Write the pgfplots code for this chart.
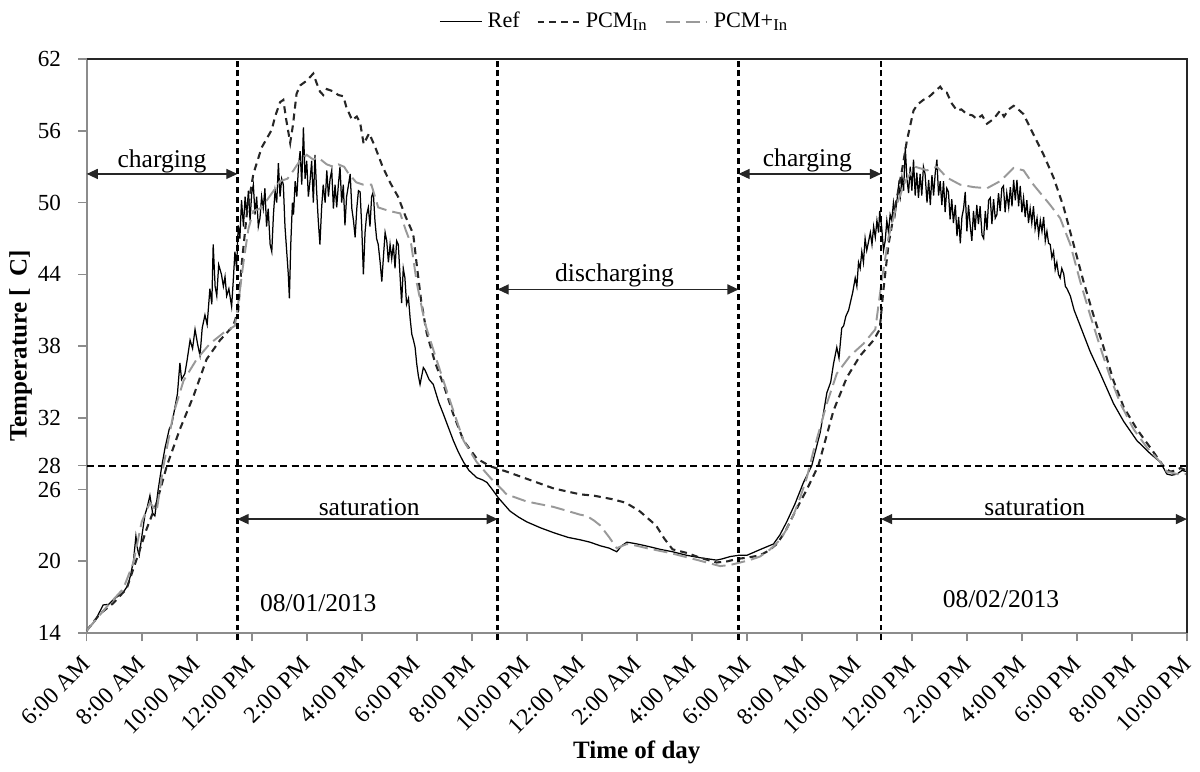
\documentclass[border=0pt]{standalone}
\usepackage{fontspec}
\setmainfont{Liberation Serif}
\usepackage{pgfplots}
\pgfplotsset{compat=1.18}
\usetikzlibrary{arrows.meta}

\tikzset{
  span/.style={{Triangle[length=4pt,width=3.6pt]}-{Triangle[length=4pt,width=3.6pt]}, line width=0.5pt, black!85},
  phase/.style={black, line width=0.9pt, dash pattern=on 2.1pt off 1.4pt},
  note/.style={anchor=base, inner sep=0pt, font=\fontsize{9.2}{11}\selectfont},
}

\begin{document}
\begin{tikzpicture}
\begin{axis}[
  at={(0,0)}, anchor=south west,
  scale only axis, width=396.1pt, height=206.6pt,
  xmin=0, xmax=40, ymin=14, ymax=62,
  clip=false,
  xtick={0,2,...,40},
  xticklabels={6:00 AM,8:00 AM,10:00 AM,12:00 PM,2:00 PM,4:00 PM,6:00 PM,8:00 PM,10:00 PM,12:00 AM,2:00 AM,4:00 AM,6:00 AM,8:00 AM,10:00 AM,12:00 PM,2:00 PM,4:00 PM,6:00 PM,8:00 PM,10:00 PM},
  ytick={14,20,26,28,32,38,44,50,56,62},
  xtick pos=bottom, ytick pos=left,
  tick align=outside, major tick length=3pt,
  tick style={black!45, line width=0.6pt},
  axis line style={black!45, line width=0.7pt},
  /pgf/number format/assume math mode=true,
  yticklabel style={font=\fontsize{8.3}{10}\selectfont, xshift=-2.7pt},
  xticklabel style={font=\fontsize{8.5}{10}\selectfont, yshift=-6.8pt, rotate=45, anchor=east, inner sep=0pt},
  xlabel={Time of day},
  ylabel={Temperature [\hspace{0.45em}C]},
  xlabel style={font=\bfseries\fontsize{9}{10}\selectfont, at={(axis description cs:0.5,-0.2073)}, anchor=center},
  ylabel style={font=\bfseries\fontsize{9}{10}\selectfont, at={(axis description cs:-0.06,0.5)}, anchor=center},
  legend columns=3,
  legend style={at={(axis description cs:0.4817,1.065)}, anchor=center, draw=none, fill=none,
    font=\fontsize{8}{9.6}\selectfont, /tikz/every even column/.append style={column sep=4pt}},
  legend image code/.code={\draw[#1] (0pt,0pt) -- (15pt,0pt);},
]

% Ref
\addplot[black, line width=0.45pt] coordinates {
(0,14.2)(0.3,15.0)(0.6,16.35)(0.8,16.4)(0.97,16.8)(1.15,17.1)(1.33,17.4)(1.5,18.0)(1.58,18.7)(1.7,20.0)(1.79,22.1)(1.85,21.0)(1.91,20.5)(2.0,22.0)(2.12,23.9)(2.2,24.5)(2.3,25.5)(2.4,24.0)(2.48,23.8)(2.6,26.0)(2.73,27.95)(2.85,29.5)(3.0,31.05)(3.1,31.5)(3.21,32.9)(3.3,34.0)(3.39,36.6)(3.45,35.2)(3.57,35.7)(3.65,36.8)(3.76,38.5)(3.85,37.8)(3.94,39.4)(4.03,38.2)(4.12,37.2)(4.2,39.5)(4.3,40.6)(4.38,39.8)(4.48,42.8)(4.55,41.5)(4.6,46.5)(4.67,43.0)(4.73,42.2)(4.8,44.8)(4.9,44.0)(4.97,43.0)(5.03,43.8)(5.09,42.2)(5.17,42.8)(5.27,41.3)(5.33,43.5)
(5.39,45.9)(5.45,44.5)(5.51,48.1)(5.57,47.0)(5.63,50.2)(5.70,48.0)(5.76,50.5)(5.82,49.0)(5.88,51.0)(5.94,48.5)(6.00,50.8)(6.06,51.5)(6.12,49.0)(6.18,50.5)(6.24,48.0)(6.30,48.7)(6.36,50.5)(6.42,49.5)(6.48,51.2)(6.54,48.0)(6.60,49.5)(6.67,46.5)(6.73,45.9)(6.79,49.0)(6.85,51.0)(6.91,50.0)(6.97,53.3)(7.03,50.5)(7.09,52.0)(7.15,51.5)(7.21,48.0)(7.27,46.0)(7.33,44.0)(7.37,42.0)(7.42,46.5)(7.48,50.0)(7.52,49.0)(7.58,51.8)(7.64,50.5)(7.70,53.0)(7.76,54.3)(7.82,51.5)(7.88,56.3)(7.94,52.0)(8.00,53.5)(8.06,50.5)(8.12,51.8)(8.18,53.5)(8.24,50.0)(8.30,54.0)(8.36,51.0)(8.42,48.5)(8.48,46.5)(8.54,49.5)(8.60,51.5)(8.67,50.0)(8.73,52.7)(8.79,50.5)(8.85,52.0)(8.91,52.7)(8.97,49.5)(9.03,51.5)(9.09,49.6)(9.15,51.5)(9.21,53.0)(9.27,50.0)(9.33,51.5)(9.39,48.1)(9.45,50.5)(9.52,51.5)(9.58,52.4)(9.64,49.5)(9.70,48.5)(9.76,47.1)(9.82,49.5)(9.88,51.0)(9.94,50.9)(10.00,48.0)(10.06,44.0)(10.12,47.5)(10.18,49.0)(10.24,49.6)(10.30,48.0)(10.36,50.5)(10.42,50.9)(10.48,48.5)(10.54,47.0)(10.60,46.5)(10.67,45.0)(10.73,43.4)(10.79,45.5)(10.85,47.5)(10.91,46.8)(10.97,45.0)(11.03,46.5)(11.09,45.3)(11.15,46.5)(11.21,44.5)(11.27,46.8)(11.33,46.5)(11.39,44.0)(11.45,41.6)(11.51,44.5)(11.57,43.7)(11.63,41.5)(11.70,42.0)(11.76,40.3)(11.82,39.0)(11.88,38.5)(11.94,37.9)(12.00,36.5)(12.06,35.5)(12.12,34.8)(12.18,35.5)(12.24,36.2)(12.30,36.0)
(12.45,35.2)(12.6,34.8)(12.8,33.3)(12.97,32.3)(13.15,31.2)(13.33,30.1)(13.5,29.2)(13.7,28.3)(13.9,27.6)(14.18,27.0)(14.4,26.8)(14.55,26.6)(14.75,26.0)(14.97,25.3)(15.2,24.7)(15.39,24.2)(15.7,23.7)(16.0,23.3)(16.5,22.8)(16.97,22.4)(17.5,22.0)(17.94,21.8)(18.3,21.6)(18.67,21.3)(19.0,21.1)(19.27,20.8)(19.45,21.3)(19.64,21.6)(19.9,21.5)(20.12,21.4)(20.5,21.2)(20.85,21.0)(21.3,20.8)(21.82,20.5)(22.3,20.3)(22.9,20.1)(23.1,20.2)(23.4,20.4)(23.7,20.5)(24.0,20.5)(24.5,21.0)(24.97,21.45)(25.2,22.2)(25.45,23.3)(25.75,24.8)(26.06,26.6)(26.36,28.0)(26.67,30.8)
(26.91,34.1)(27.05,35.0)(27.15,36.5)(27.27,37.9)(27.35,37.0)(27.45,39.5)(27.52,39.7)(27.6,40.5)(27.7,41.0)(27.76,41.6)(27.85,42.5)(27.94,43.7)(28.0,43.0)(28.06,45.0)(28.12,44.5)(28.18,45.9)(28.24,45.0)(28.3,47.0)(28.36,46.0)(28.43,46.8)(28.49,47.5)(28.55,46.5)(28.61,48.0)(28.67,47.1)(28.73,48.5)(28.79,47.5)(28.83,49.3)(28.9,48.0)(28.97,46.0)(29.03,46.8)(29.09,48.5)(29.15,47.5)(29.21,49.0)(29.27,48.5)(29.33,50.0)(29.39,49.0)(29.46,50.2)(29.52,51.5)(29.58,50.5)(29.64,52.1)(29.7,51.0)(29.76,54.6)(29.82,52.0)(29.88,50.8)(29.94,53.0)(30.0,51.0)(30.06,53.6)(30.12,50.6)(30.18,52.5)(30.24,50.4)(30.3,52.4)(30.36,50.6)(30.42,53.0)(30.48,52.4)(30.55,50.0)(30.61,51.9)(30.67,49.8)(30.73,52.3)(30.79,50.6)(30.85,52.5)(30.91,53.6)(30.97,50.6)(31.03,51.8)(31.09,49.8)(31.15,51.8)(31.21,49.2)(31.27,51.2)(31.33,50.9)(31.39,48.6)(31.45,50.3)(31.51,48.3)(31.58,49.8)(31.64,47.2)(31.7,48.8)(31.76,46.6)(31.82,48.8)(31.88,49.5)(31.94,50.9)(32.0,47.6)(32.06,49.8)(32.12,48.1)(32.18,46.8)(32.24,49.3)(32.3,47.7)(32.36,49.8)(32.42,48.2)(32.48,49.7)(32.55,47.3)(32.61,47.0)(32.67,49.3)(32.73,47.7)(32.79,50.2)(32.85,50.4)(32.91,48.2)(32.97,50.3)(33.03,48.7)(33.09,49.0)(33.15,50.8)(33.21,49.3)(33.27,51.2)(33.33,51.4)(33.39,49.2)(33.45,50.8)(33.52,49.6)(33.58,51.3)(33.64,49.7)(33.7,51.9)(33.76,50.2)(33.82,51.9)(33.88,49.7)(33.94,51.4)(34.0,49.2)(34.06,50.4)(34.12,48.8)(34.18,50.2)(34.24,48.3)(34.3,49.5)(34.36,48.3)(34.42,49.7)(34.48,47.8)(34.55,48.7)(34.61,47.3)(34.67,48.5)(34.73,47.6)(34.79,48.8)(34.85,46.8)(34.91,47.6)(34.97,46.6)(35.03,46.5)(35.09,45.4)(35.15,45.9)(35.21,44.4)(35.27,45.0)(35.33,44.0)(35.39,43.7)(35.45,44.5)(35.52,44.05)(35.58,43.0)(35.64,42.8)(35.7,42.5)(35.76,42.2)
(35.9,41.0)(36.12,39.7)(36.48,37.55)(36.85,35.7)(37.33,33.2)(37.7,31.7)(38.18,30.1)(38.67,29.0)(39.03,28.3)(39.15,27.8)(39.27,27.3)(39.45,27.2)(39.64,27.3)(39.82,27.6)(40,27.5)
};
\addlegendentry{Ref}

% PCM In
\addplot[black!85, line width=0.75pt, dash pattern=on 2.5pt off 1.8pt] coordinates {
(0,14.2)(0.48,15.6)(0.97,16.5)(1.45,17.7)(1.82,20.2)(2.18,22.7)(2.545,24.9)(2.91,27.95)(3.39,31.05)(3.88,33.8)(4.36,36.9)(4.85,38.5)(5.33,39.7)(5.51,41.0)(5.63,44.7)(5.82,49.0)(6.06,52.4)(6.36,54.6)(6.73,56.1)(6.85,57.2)(7.03,58.4)(7.15,58.6)(7.25,57.0)(7.4,55.0)(7.5,56.5)(7.63,59.1)(7.76,59.8)(8.0,60.2)(8.24,60.8)(8.36,60.0)(8.48,59.3)(8.6,59.0)(8.73,59.5)(8.97,59.3)(9.15,59.0)(9.33,58.9)(9.44,58.0)(9.65,56.9)(9.82,57.2)(9.94,56.7)(10.07,54.9)(10.27,55.8)(10.48,54.7)(10.76,53.0)(11.05,51.6)(11.32,50.5)(11.6,48.8)(11.87,47.4)(12.0,44.8)(12.16,41.8)(12.36,39.1)(12.67,36.6)(12.97,34.8)(13.33,32.3)(13.7,30.1)(14.18,28.6)(14.67,27.95)(15.27,27.5)(16.0,26.9)(16.97,26.1)(17.94,25.6)(18.42,25.5)(19.1,25.2)(19.6,24.9)(20.1,24.2)(20.4,23.6)(20.7,23.0)(21.0,21.9)(21.3,21.0)(21.82,20.7)(22.3,20.3)(22.9,19.9)(23.3,20.0)(23.64,20.2)(24.0,20.3)(24.48,20.5)(24.8,20.9)(25.09,21.45)(25.4,22.5)(25.7,23.9)(25.95,25.0)(26.18,26.0)(26.6,28.0)(27.15,32.6)(27.64,35.4)(28.12,37.2)(28.61,38.5)(28.83,39.4)(28.97,42.8)(29.15,46.5)(29.39,49.6)(29.64,52.7)(29.82,55.2)(30.06,57.7)(30.2,58.2)(30.42,58.6)(30.6,58.8)(30.79,59.2)(31.03,59.7)(31.15,59.3)(31.27,59.2)(31.45,58.3)(31.64,57.7)(31.8,57.8)(32.0,57.4)(32.2,57.3)(32.36,57.0)(32.55,57.3)(32.73,56.6)(32.97,57.0)(33.21,57.7)(33.35,57.2)(33.52,57.8)(33.7,58.1)(33.82,57.9)(34.06,57.4)(34.42,55.7)(34.79,54.0)(35.15,52.1)(35.52,49.6)(35.88,46.5)(36.24,43.4)(36.6,40.6)(36.97,37.9)(37.33,35.1)(37.7,32.9)(38.18,31.05)(38.67,29.5)(39.15,27.95)(39.39,27.5)(39.6,27.6)(39.76,27.8)(40,27.6)
};
\addlegendentry{PCM\textsubscript{In}}

% PCM+ In
\addplot[black!40, line width=0.7pt, dash pattern=on 5pt off 2.2pt] coordinates {
(0,14.2)(0.73,16.2)(1.33,17.7)(1.7,19.9)(2.0,23.3)(2.3,24.9)(2.545,24.2)(2.79,27.95)(3.15,32.3)(3.52,35.1)(4.0,36.9)(4.48,38.2)(4.97,39.1)(5.39,39.7)(5.51,41.6)(5.7,45.0)(5.88,47.8)(6.06,49.3)(6.3,49.5)(6.55,50.2)(6.8,51.0)(7.03,51.8)(7.3,52.0)(7.52,52.7)(7.75,53.5)(8.0,54.0)(8.24,53.6)(8.4,53.8)(8.73,53.2)(8.97,53.0)(9.15,53.2)(9.36,53.0)(9.5,52.5)(9.8,51.7)(10.06,51.5)(10.35,51.5)(10.6,49.6)(11.0,49.3)(11.4,49.1)(11.6,47.7)(11.8,46.5)(12.0,43.3)(12.3,39.9)(12.67,37.2)(12.97,35.1)(13.33,32.6)(13.7,30.1)(14.18,28.3)(14.67,27.0)(15.27,25.6)(16.0,25.0)(16.97,24.55)(17.5,24.2)(17.94,23.9)(18.18,23.8)(18.45,23.4)(18.67,23.0)(19.0,22.0)(19.27,21.1)(19.64,21.45)(20.0,21.3)(20.36,21.1)(21.21,20.7)(22.3,20.05)(23.03,19.6)(23.4,19.7)(23.76,19.9)(24.1,20.1)(24.48,20.4)(24.85,21.0)(25.21,21.8)(25.45,22.7)(25.7,23.9)(25.95,25.4)(26.18,27.0)(26.42,29.2)(26.91,33.2)(27.27,35.7)(27.76,37.2)(28.24,38.2)(28.67,39.4)(28.9,43.4)(29.15,47.1)(29.46,49.9)(29.76,51.8)(30.12,53.0)(30.55,52.7)(30.91,53.0)(31.27,52.1)(31.76,51.5)(32.24,51.3)(32.73,51.2)(33.21,51.8)(33.7,52.9)(34.06,52.7)(34.42,51.5)(35.03,49.8)(35.39,48.7)(35.76,46.5)(36.12,43.4)(36.48,40.6)(36.85,37.9)(37.21,35.4)(37.58,33.2)(38.06,31.05)(38.55,29.5)(39.03,28.3)(39.27,27.5)(39.64,27.3)(40,27.3)
};
\addlegendentry{PCM+\textsubscript{In}}

% phase limits and the 28 C line
\draw[black, line width=0.75pt, dash pattern=on 2.5pt off 1.6pt] (axis cs:0,28) -- (axis cs:40,28);
\draw[phase] (axis cs:5.48,13.4) -- (axis cs:5.48,62);
\draw[phase] (axis cs:14.94,13.4) -- (axis cs:14.94,62);
\draw[phase] (axis cs:23.7,13.4) -- (axis cs:23.7,62);
\draw[phase] (axis cs:28.88,13.4) -- (axis cs:28.88,62);

\draw[span] (axis cs:0,52.4) -- (axis cs:5.48,52.4);
\node[note] at (axis cs:2.74,52.95) {charging};
\draw[span] (axis cs:23.7,52.4) -- (axis cs:28.88,52.4);
\node[note] at (axis cs:26.2,53.05) {charging};
\draw[span] (axis cs:14.94,42.74) -- (axis cs:23.7,42.74);
\node[note] at (axis cs:19.19,43.37) {discharging};
\draw[span] (axis cs:5.48,23.53) -- (axis cs:14.94,23.53);
\node[note] at (axis cs:10.27,23.85) {saturation};
\draw[span] (axis cs:28.88,23.53) -- (axis cs:40,23.53);
\node[note] at (axis cs:34.47,23.85) {saturation};
\node[note] at (axis cs:8.42,15.78) {08/01/2013};
\node[note] at (axis cs:33.24,16.1) {08/02/2013};

\draw[black!85, line width=0.7pt] (rel axis cs:0,1) -- (rel axis cs:1,1) -- (rel axis cs:1,0);
\end{axis}
\pgfresetboundingbox
\path[use as bounding box] (-31.2pt,-49.7pt) rectangle (400.8pt,227.9pt);
\end{tikzpicture}
\end{document}
